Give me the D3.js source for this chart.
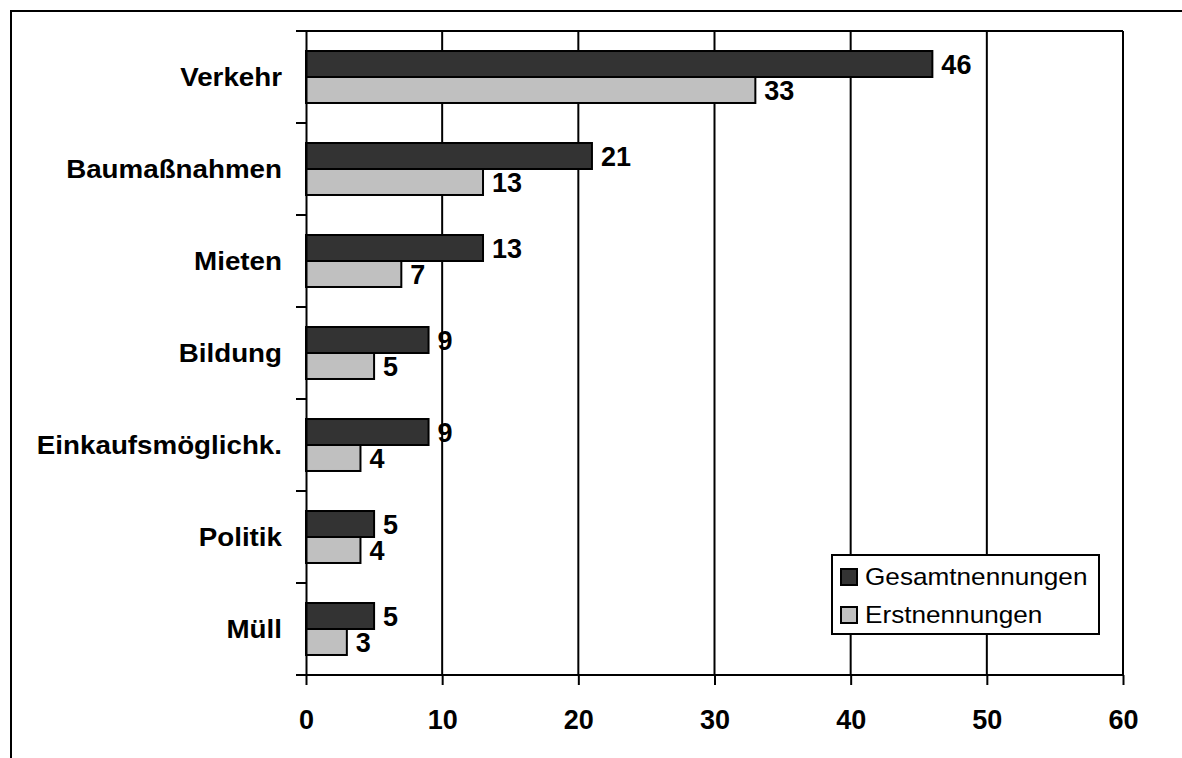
<!DOCTYPE html>
<html>
<head>
<meta charset="utf-8">
<script src="https://cdn.jsdelivr.net/npm/d3@7"></script>
<style>
  html, body { margin: 0; padding: 0; background: #fff; }
  svg { display: block; }
  text { font-family: Arial, "Liberation Sans", sans-serif; fill: #000; }
</style>
</head>
<body>
<svg id="chart" width="1182" height="758"></svg>
<script>
// Topics and counts of mentions
const categories = ["Verkehr", "Baumaßnahmen", "Mieten", "Bildung", "Einkaufsmöglichk.", "Politik", "Müll"];
const seriesNames = ["Gesamtnennungen", "Erstnennungen"];
const gesamt = [46, 21, 13, 9, 9, 5, 5];
const erst = [33, 13, 7, 5, 4, 4, 3];
const xTicks = [0, 10, 20, 30, 40, 50, 60];
const colors = ["#333333", "#c0c0c0"];

const svg = d3.select("#chart");

// outer frame of the chart image
svg.append("rect")
  .attr("x", 11).attr("y", 11)
  .attr("width", 1200).attr("height", 800)
  .attr("fill", "none").attr("stroke", "#000").attr("stroke-width", 2);

const plot = { left: 306, right: 1123, top: 31, bottom: 675 };

const x = d3.scaleLinear().domain([0, 60]).range([plot.left, plot.right]);
const y = d3.scaleBand().domain(categories).range([plot.top, plot.bottom]).paddingInner(0).paddingOuter(0);
const ySub = d3.scaleBand().domain(seriesNames).range([0, y.bandwidth()]).paddingInner(0).paddingOuter(0.77);

// vertical gridlines
svg.append("g").selectAll("line")
  .data(xTicks.slice(1))
  .join("line")
  .attr("x1", d => x(d)).attr("x2", d => x(d))
  .attr("y1", plot.top).attr("y2", plot.bottom)
  .attr("stroke", "#000").attr("stroke-width", 2);

// top border of plot area
svg.append("line")
  .attr("x1", plot.left).attr("x2", plot.right)
  .attr("y1", plot.top).attr("y2", plot.top)
  .attr("stroke", "#000").attr("stroke-width", 2);

// bars
const rows = categories.map((c, i) => ({ cat: c, values: [gesamt[i], erst[i]] }));
const groups = svg.append("g").selectAll("g")
  .data(rows)
  .join("g")
  .attr("transform", d => `translate(0,${y(d.cat)})`);

groups.selectAll("rect")
  .data(d => d.values.map((v, j) => ({ v, s: seriesNames[j], j })))
  .join("rect")
  .attr("x", x(0))
  .attr("y", d => ySub(d.s))
  .attr("width", d => x(d.v) - x(0))
  .attr("height", ySub.bandwidth())
  .attr("fill", d => colors[d.j])
  .attr("stroke", "#000").attr("stroke-width", 2);

// value labels
groups.selectAll("text.val")
  .data(d => d.values.map((v, j) => ({ v, s: seriesNames[j], j })))
  .join("text")
  .attr("class", "val")
  .attr("x", d => x(d.v) + 9)
  .attr("y", d => ySub(d.s) + ySub.bandwidth() / 2 + 10)
  .attr("font-size", 27)
  .attr("font-weight", "bold")
  .text(d => d.v);

// y axis
const yAxis = d3.axisLeft(y).tickSize(0).tickFormat("");
const yg = svg.append("g").attr("transform", `translate(${plot.left},0)`).call(yAxis);
yg.select(".domain").attr("stroke", "#000").attr("stroke-width", 2);
// tick marks at category boundaries
const bounds = categories.map(c => y(c)).concat([plot.bottom]);
svg.append("g").selectAll("line")
  .data(bounds)
  .join("line")
  .attr("x1", plot.left - 10).attr("x2", plot.left)
  .attr("y1", d => d).attr("y2", d => d)
  .attr("stroke", "#000").attr("stroke-width", 2);

// category labels
svg.append("g").selectAll("text")
  .data(categories)
  .join("text")
  .attr("transform", d => `translate(282,${y(d) + y.bandwidth() / 2 + 9}) scale(1.11,1)`)
  .attr("text-anchor", "end")
  .attr("font-size", 25)
  .attr("font-weight", "bold")
  .text(d => d);

// x axis
const xAxis = d3.axisBottom(x).tickValues(xTicks).tickSize(10).tickPadding(0).tickFormat(d3.format("d"));
const xg = svg.append("g").attr("transform", `translate(0,${plot.bottom})`).call(xAxis);
xg.select(".domain").attr("d", `M${plot.left - 10},0H${plot.right}`).attr("stroke", "#000").attr("stroke-width", 2);
xg.selectAll(".tick line").attr("stroke", "#000").attr("stroke-width", 2);
xg.selectAll(".tick text")
  .attr("dy", null)
  .attr("y", 54)
  .attr("font-size", 27)
  .attr("font-weight", "bold")
  .attr("font-family", "Arial, 'Liberation Sans', sans-serif")
  .attr("fill", "#000");

// legend
const legend = svg.append("g").attr("transform", "translate(832,555)");
legend.append("rect")
  .attr("width", 267).attr("height", 79)
  .attr("fill", "#fff").attr("stroke", "#000").attr("stroke-width", 2);
const items = legend.selectAll("g")
  .data(seriesNames)
  .join("g")
  .attr("transform", (d, i) => `translate(0,${i * 38})`);
items.append("rect")
  .attr("x", 9).attr("y", 14)
  .attr("width", 16).attr("height", 16)
  .attr("fill", (d, i) => colors[i])
  .attr("stroke", "#000").attr("stroke-width", 2);
items.append("text")
  .attr("transform", "translate(33,30) scale(1.09,1)")
  .attr("font-size", 24)
  .text(d => d);
</script>
</body>
</html>
